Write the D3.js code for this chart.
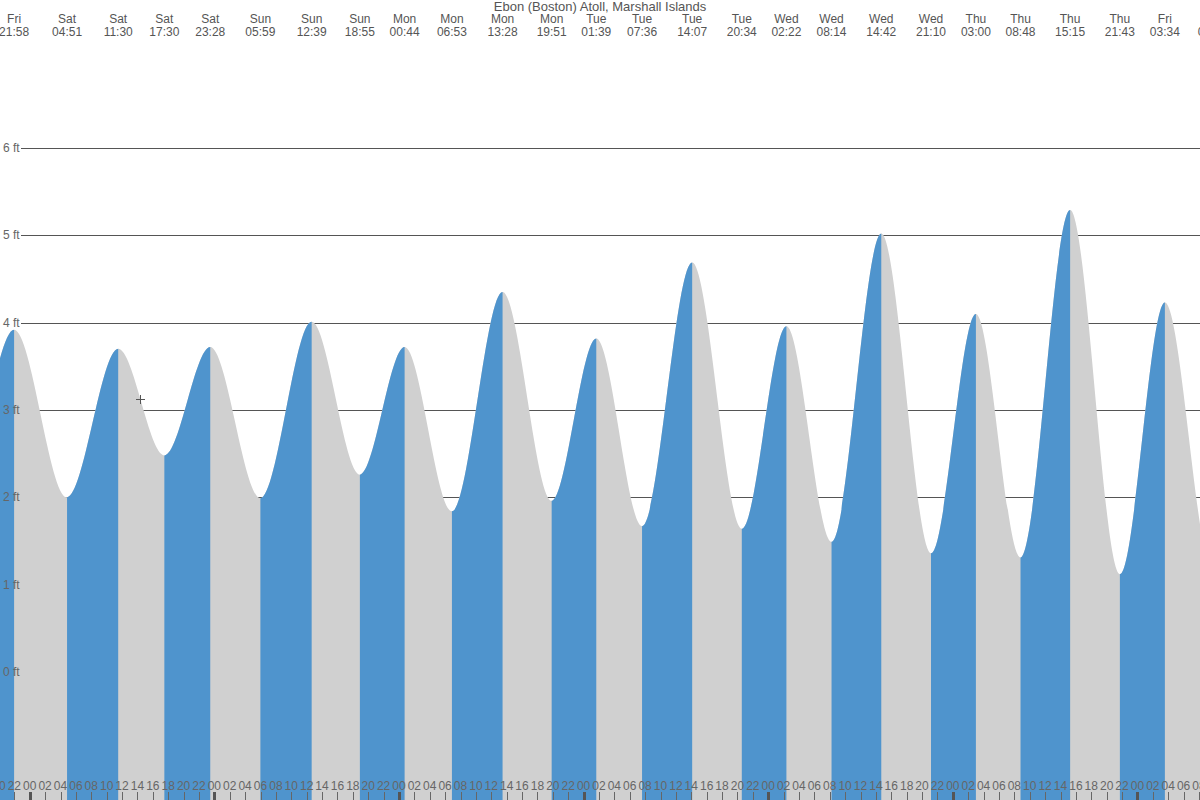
<!DOCTYPE html>
<html>
<head>
<meta charset="utf-8">
<script src="https://cdn.jsdelivr.net/npm/d3@7"></script>
<style>
  body { margin: 0; background: #fff; }
  svg { display: block; font-family: "Liberation Sans", Arial, sans-serif; }
</style>
</head>
<body>
<div id="vis-svg"></div>
<script>
var width = 1200;
var height = 800;

// tide extremes (local time), heights in feet; first two and last one sit off screen
var tideTimes = [
  "2024-08-02 09:40", "2024-08-02 15:50", "2024-08-02 21:58", "2024-08-03 04:51",
  "2024-08-03 11:30", "2024-08-03 17:30", "2024-08-03 23:28", "2024-08-04 05:59",
  "2024-08-04 12:39", "2024-08-04 18:55", "2024-08-05 00:44", "2024-08-05 06:53",
  "2024-08-05 13:28", "2024-08-05 19:51", "2024-08-06 01:39", "2024-08-06 07:36",
  "2024-08-06 14:07", "2024-08-06 20:34", "2024-08-07 02:22", "2024-08-07 08:14",
  "2024-08-07 14:42", "2024-08-07 21:10", "2024-08-08 03:00", "2024-08-08 08:48",
  "2024-08-08 15:15", "2024-08-08 21:43", "2024-08-09 03:34", "2024-08-09 09:48",
  "2024-08-09 15:50"
];
var tideHeights = [
  3.80, 2.40, 3.92, 2.00,
  3.70, 2.48, 3.72, 1.99,
  4.01, 2.26, 3.72, 1.84,
  4.35, 1.96, 3.82, 1.67,
  4.69, 1.64, 3.96, 1.49,
  5.02, 1.36, 4.10, 1.31,
  5.29, 1.12, 4.23, 1.15,
  5.40
];
var feetTicks = [0, 1, 2, 3, 4, 5, 6];
var title = "Ebon (Boston) Atoll, Marshall Islands";
var timeStart = "2024-08-02 20:08";
var timeEnd = "2024-08-09 08:08";

var parseTime = d3.timeParse("%Y-%m-%d %H:%M");
var data = tideTimes.map(function(t, i) {
  return { date: parseTime(t), ft: tideHeights[i] };
});

var svg = d3
  .select("#vis-svg")
  .append("svg")
  .attr("width", width)
  .attr("height", height);

var x = d3
  .scaleTime()
  .domain([parseTime(timeStart), parseTime(timeEnd)])
  .range([0, width]);

var y = d3.scaleLinear().domain([0, 6]).range([672, 148]);

// grid lines behind the tide
svg
  .append("g")
  .selectAll("line")
  .data(feetTicks)
  .enter()
  .append("line")
  .attr("x1", 21)
  .attr("x2", width)
  .attr("y1", function(d) { return Math.round(y(d)) + 0.5; })
  .attr("y2", function(d) { return Math.round(y(d)) + 0.5; })
  .attr("stroke", "#555")
  .attr("stroke-width", 1);

var area = d3
  .area()
  .curve(d3.curveMonotoneX)
  .x(function(d) { return x(d.date); })
  .y0(height)
  .y1(function(d) { return y(d.ft); });

// rising stretches get blue, falling get gray
var clip = svg.append("defs").append("clipPath").attr("id", "rising");
for (var i = 0; i < data.length - 1; i++) {
  if (data[i + 1].ft > data[i].ft) {
    clip
      .append("rect")
      .attr("x", x(data[i].date))
      .attr("y", 0)
      .attr("width", x(data[i + 1].date) - x(data[i].date))
      .attr("height", height);
  }
}

svg
  .append("path")
  .datum(data)
  .attr("d", area)
  .attr("fill", "#d0d0d0");

svg
  .append("path")
  .datum(data)
  .attr("d", area)
  .attr("fill", "#4f94cd")
  .attr("clip-path", "url(#rising)");

// feet labels
svg
  .append("g")
  .selectAll("text")
  .data(feetTicks)
  .enter()
  .append("text")
  .attr("x", 3)
  .attr("y", function(d) { return y(d) + 4; })
  .attr("font-size", 12)
  .attr("fill", "#666")
  .text(function(d) { return d + " ft"; });

// top: time of each high / low
var fmtDay = d3.timeFormat("%a");
var fmtTime = d3.timeFormat("%H:%M");
var topLabels = svg
  .append("g")
  .attr("fill", "#555")
  .attr("font-size", 12)
  .attr("text-anchor", "middle");

topLabels
  .selectAll(".day")
  .data(data)
  .enter()
  .append("text")
  .attr("class", "day")
  .attr("x", function(d) { return x(d.date); })
  .attr("y", 23)
  .text(function(d) { return fmtDay(d.date); });

topLabels
  .selectAll(".time")
  .data(data)
  .enter()
  .append("text")
  .attr("class", "time")
  .attr("x", function(d) { return x(d.date); })
  .attr("y", 36)
  .text(function(d) { return fmtTime(d.date); });

svg
  .append("text")
  .attr("x", width / 2)
  .attr("y", 11)
  .attr("text-anchor", "middle")
  .attr("font-size", 13)
  .attr("fill", "#555")
  .text(title);

// bottom hour axis
var hours = d3.timeHour.every(2).range(x.domain()[0], x.domain()[1]);
hours.unshift(d3.timeHour.offset(hours[0], -2));
var bottom = svg.append("g");

bottom
  .selectAll("line")
  .data(hours)
  .enter()
  .append("line")
  .attr("x1", function(d) { return Math.round(x(d)) + 0.5; })
  .attr("x2", function(d) { return Math.round(x(d)) + 0.5; })
  .attr("y1", 792)
  .attr("y2", height)
  .attr("stroke", function(d) { return d.getHours() === 0 ? "#555" : "#666"; })
  .attr("stroke-width", function(d) { return d.getHours() === 0 ? 3 : 1; });

bottom
  .selectAll("text")
  .data(hours)
  .enter()
  .append("text")
  .attr("x", function(d) { return x(d); })
  .attr("y", 790)
  .attr("text-anchor", "middle")
  .attr("font-size", 12)
  .attr("fill", "#666")
  .text(d3.timeFormat("%H"));

// cursor mark
svg
  .append("path")
  .attr("d", "M136,399.5H145M140.5,395V404")
  .attr("stroke", "#555")
  .attr("stroke-width", 1);
</script>
</body>
</html>
